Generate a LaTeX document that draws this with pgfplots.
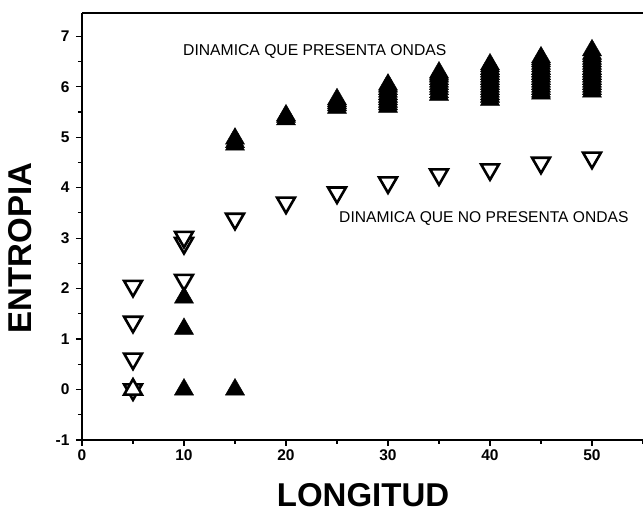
\documentclass[border=0pt]{standalone}
\usepackage{fontspec}
\setmainfont{Liberation Sans}
\usepackage{pgfplots}
\pgfplotsset{compat=1.18}
\begin{document}
\begin{tikzpicture}
\path[use as bounding box] (0,0) rectangle (643pt,516pt);
\begin{axis}[
  name=ax,
  at={(82pt,76pt)}, anchor=south west,
  width=561pt, height=427pt, scale only axis,
  xmin=0, xmax=55, ymin=-1, ymax=7.46,
  axis x line*=bottom, axis y line*=left,
  axis line style={-, line width=1.5pt},
  tick align=outside,
  xtick={0,10,...,50}, minor xtick={5,15,...,55},
  ytick={-1,0,...,7}, minor ytick={-0.5,0.5,...,7},
  major tick length=6pt, minor tick length=4pt,
  tick style={line width=1.2pt, black},
  /pgf/number format/assume math mode=true,
  tick label style={font=\fontsize{15.5}{16}\selectfont\bfseries},
  yticklabel style={xshift=-3pt},
  every axis x label/.style={at={(axis description cs:0.501,-0.129)}, anchor=center},
  every axis y label/.style={at={(axis description cs:-0.111,0.45)}, anchor=center, rotate=90},
  label style={font=\bfseries\fontsize{33}{33}\selectfont},
  xlabel={LONGITUD}, ylabel={ENTROPIA},
  clip=false,
]
% open downward triangles: dinamica que no presenta ondas
\addplot[only marks, mark=triangle*, mark size=10.3pt,
  mark options={rotate=180, fill=white, draw=black, line width=2.6pt}]
  coordinates {
  (5,2.05) (5,1.34) (5,0.61) (5,0)
  (10,2.90) (10,3.02) (10,2.17)
  (15,3.38) (20,3.70) (25,3.90) (30,4.10) (35,4.26) (40,4.36) (45,4.49) (50,4.59)
  };
% open upward triangle at (5,0)
\addplot[only marks, mark=triangle*, mark size=10.3pt,
  mark options={fill=white, draw=black, line width=2.6pt}]
  coordinates {(5,0)};
% filled upward triangles: dinamica que presenta ondas
\addplot[only marks, mark=triangle*, mark size=11pt,
  mark options={fill=black, draw=black, line width=0.5pt}]
  coordinates {
  (10,0) (10,1.20) (10,1.82)
  (15,0) (15,4.85) (15,4.90) (15,4.97)
  (20,5.35) (20,5.40) (20,5.43)
  (25,5.58) (25,5.63) (25,5.67) (25,5.71) (25,5.75)
  (30,5.60) (30,5.65) (30,5.70) (30,5.75) (30,5.80) (30,5.85) (30,5.90) (30,5.95) (30,6.00) (30,6.04)
  (35,5.84) (35,5.89) (35,5.95) (35,6.00) (35,6.05) (35,6.10) (35,6.15) (35,6.20) (35,6.24) (35,6.28)
  (40,5.74) (40,5.80) (40,5.85) (40,5.90) (40,5.95) (40,6.00) (40,6.05) (40,6.10) (40,6.15) (40,6.20) (40,6.25) (40,6.30) (40,6.35) (40,6.40) (40,6.44)
  (45,5.86) (45,5.90) (45,5.95) (45,6.00) (45,6.05) (45,6.10) (45,6.15) (45,6.20) (45,6.25) (45,6.30) (45,6.35) (45,6.40) (45,6.45) (45,6.50) (45,6.54) (45,6.58)
  (50,5.90) (50,5.95) (50,6.00) (50,6.05) (50,6.10) (50,6.15) (50,6.20) (50,6.25) (50,6.30) (50,6.35) (50,6.40) (50,6.45) (50,6.50) (50,6.55) (50,6.60) (50,6.65) (50,6.72)
  };
\node[anchor=base west, inner sep=0, font=\fontsize{15.7}{16}\selectfont] at (axis cs:9.9,6.61) {DINAMICA QUE PRESENTA ONDAS};
\node[anchor=base west, inner sep=0, font=\fontsize{15.6}{16}\selectfont] at (axis cs:25.2,3.31) {DINAMICA QUE NO PRESENTA ONDAS};
\end{axis}
\draw[line width=1.5pt] (ax.north west) -- (ax.north east);
\end{tikzpicture}
\end{document}
